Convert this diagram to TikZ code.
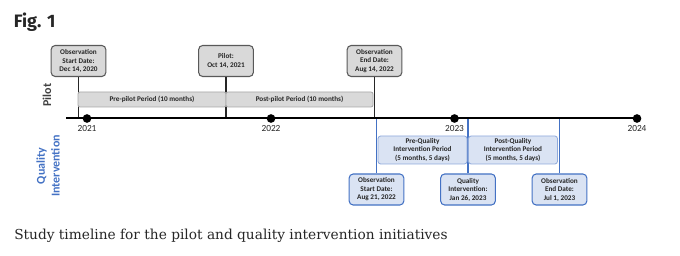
\documentclass[tikz,border=0pt]{standalone}
\usepackage{fontspec}
\setmainfont{DejaVu Serif}
\newfontfamily\cfont{Carlito}
\newfontfamily\figfont{Fira Sans}
\definecolor{boxgray}{HTML}{D9D9D9}
\definecolor{boxedge}{HTML}{595959}
\definecolor{peredge}{HTML}{A6A6A6}
\definecolor{qblue}{HTML}{4472C4}
\definecolor{qfill}{HTML}{DAE3F3}
\definecolor{qedge}{HTML}{8FAADC}
\definecolor{txt}{HTML}{262626}
\tikzset{
  boxtext/.style={font=\cfont\bfseries\fontsize{5.4}{6.4}\selectfont, text=txt, align=center, inner sep=0pt},
  datebox/.style={boxtext, draw=boxedge, fill=boxgray, rounded corners=3pt, line width=0.8pt, minimum width=41pt, minimum height=23.25pt},
  perbox/.style={boxtext, draw=peredge, fill=boxgray, rounded corners=1.5pt, line width=0.6pt, minimum height=11.25pt},
  qperbox/.style={boxtext, draw=qedge, fill=qfill, rounded corners=2pt, line width=0.6pt, minimum width=66.75pt, minimum height=21pt},
  qdatebox/.style={boxtext, draw=qblue, fill=qfill, rounded corners=3pt, line width=0.8pt, minimum width=41pt, minimum height=23.25pt},
  yeardot/.style={circle, fill=black, inner sep=0pt, minimum size=6.5pt},
  yearlab/.style={font=\cfont\fontsize{7}{8}\selectfont, text=txt, inner sep=0pt},
  blackline/.style={draw=black!85, line width=0.9pt},
  blueline/.style={draw=qblue, line width=0.9pt},
}
\begin{document}
\begin{tikzpicture}[x=0.75pt,y=-0.75pt]
\useasboundingbox (0,0) rectangle (680,256);
% title
\node[anchor=west, inner sep=0pt, font=\figfont\bfseries\fontsize{13.5}{15}\selectfont, text=black!85] (fig) at (13.5,22) {Fig. 1};
% timeline
\coordinate (ts) at (66,118.5);
\coordinate (te) at (637,118.5);
% dates (top)
\node[datebox] (ob1) at (78.5,61) {Observation\\Start Date:\\Dec 14, 2020};
\node[datebox] (pil) at (226,61) {Pilot:\\Oct 14, 2021};
\node[datebox] (ob2) at (374.5,61) {Observation\\End Date:\\Aug 14, 2022};
% vertical connectors pilot
\draw[blackline] (ob1) -- (ob1 |- ts);
\draw[blackline] (pil) -- (pil |- ts);
\draw[blackline] (ob2) -- (ob2 |- ts);
% period boxes pilot
\node[perbox, minimum width=111pt] (prep) at (152,99.5) {Pre-pilot Period (10 months)};
\node[perbox, minimum width=110.25pt] (postp) at (299.5,99.5) {Post-pilot Period (10 months)};
% quality dates
\node[qdatebox] (qo1) at (376.5,189.5) {Observation\\Start Date:\\Aug 21, 2022};
\node[qdatebox] (qi) at (468,189.5) {Quality\\Intervention:\\Jan 26, 2023};
\node[qdatebox] (qo2) at (559.5,189.5) {Observation\\End Date:\\Jul 1, 2023};
\draw[blueline] (qo1) -- (qo1 |- ts);
\draw[blueline] (qi) -- (qi |- ts);
\draw[blueline] (qo2) -- (qo2 |- ts);
% quality periods
\node[qperbox] (preq) at (422.5,150) {Pre-Quality\\Intervention Period\\(5 months, 5 days)};
\node[qperbox] (postq) at (513,150) {Post-Quality\\Intervention Period\\(5 months, 5 days)};
% main line
\draw[draw=black, line width=1.5pt] (ts) -- (te);
\node[yeardot] (y21) at (87,118.5) {};
\node[yeardot] (y22) at (271,118.5) {};
\node[yeardot] (y23) at (454.5,118.5) {};
\node[yeardot] (y24) at (637,118.5) {};
\node[yearlab] (l21) at (87,128.5) {2021};
\node[yearlab] (l22) at (271,128.5) {2022};
\node[yearlab] (l23) at (454.5,128.5) {2023};
\node[yearlab] (l24) at (637,128.5) {2024};
% side labels
\node[rotate=90, font=\cfont\bfseries\fontsize{9}{10}\selectfont, text=black!75, inner sep=0pt] (pilab) at (47,95) {Pilot};
\node[rotate=90, align=center, font=\cfont\bfseries\fontsize{9}{11}\selectfont, text=qblue, inner sep=0pt] (qlab) at (48,166) {Quality\\Intervention};
% caption
\node[anchor=west, inner sep=0pt, font=\fontsize{10.3}{13}\selectfont, text=black!85] (cap) at (14,236) {Study timeline for the pilot and quality intervention initiatives};
\end{tikzpicture}
\end{document}
